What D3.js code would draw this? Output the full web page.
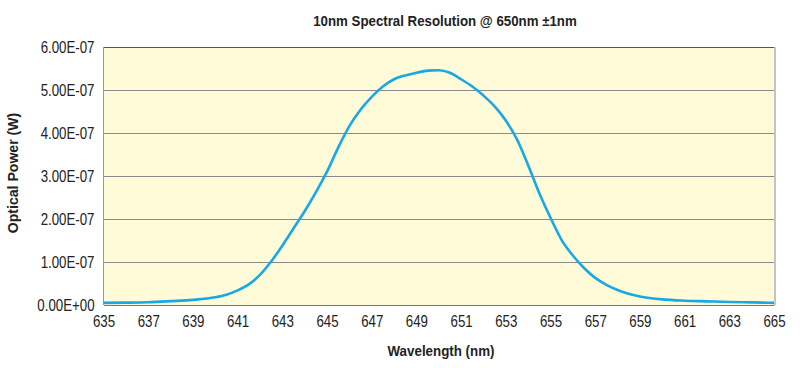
<!DOCTYPE html>
<html><head><meta charset="utf-8">
<script src="https://cdn.jsdelivr.net/npm/d3@7"></script>
<style>body{margin:0;background:#fff}svg{display:block}</style>
</head><body>
<svg id="c" width="800" height="368"></svg>
<script>
const wavelengths = [635,636,637,638,639,640,640.5,641,641.5,642,642.5,643,643.5,644,644.5,645,645.5,646,646.5,647,647.5,648,648.5,649,649.5,650,650.5,651,651.5,652,652.5,653,653.5,654,654.5,655,655.5,656,656.5,657,657.5,658,659,660,661,662,663,664,665];
const powerE7 = [0.05,0.055,0.065,0.09,0.12,0.18,0.24,0.34,0.48,0.70,1.01,1.38,1.78,2.18,2.62,3.10,3.66,4.16,4.54,4.84,5.08,5.25,5.34,5.40,5.45,5.46,5.40,5.25,5.08,4.87,4.62,4.29,3.85,3.25,2.60,2.03,1.51,1.15,0.86,0.63,0.47,0.35,0.20,0.13,0.10,0.085,0.07,0.06,0.05];
const xTicks = [635,637,639,641,643,645,647,649,651,653,655,657,659,661,663,665];
const yTicks = [0,1e-7,2e-7,3e-7,4e-7,5e-7,6e-7];
const yTickLabels = ["0.00E+00","1.00E-07","2.00E-07","3.00E-07","4.00E-07","5.00E-07","6.00E-07"];
const title = "10nm Spectral Resolution @ 650nm \u00b11nm";
const xTitle = "Wavelength (nm)";
const yTitle = "Optical Power (W)";

const data = wavelengths.map((w,i)=>({x:w, y:powerE7[i]*1e-7}));
const svg = d3.select("#c");
const L=103.5, R=774, T=47, B=305;
const x = d3.scaleLinear().domain([635,665]).range([L,R]);
const y = d3.scaleLinear().domain([0,6e-7]).range([B,T]);
const font = "'Liberation Sans',Arial,sans-serif";
const SX = 0.83;

svg.append("rect").attr("x",L).attr("y",T).attr("width",R-L).attr("height",B-T).attr("fill","#FFFBD8");
svg.append("line").attr("x1",R+1).attr("x2",R+1).attr("y1",T).attr("y2",B).attr("stroke","#c4c4c4").attr("stroke-width",2);

svg.append("g").selectAll("line").data(yTicks.slice(1,-1)).join("line")
  .attr("x1",L).attr("x2",R).attr("y1",d=>Math.round(y(d))+0.5).attr("y2",d=>Math.round(y(d))+0.5)
  .attr("stroke","#8a8a8a").attr("stroke-width",1);
svg.append("line").attr("x1",L).attr("x2",R).attr("y1",T+0.5).attr("y2",T+0.5).attr("stroke","#555").attr("stroke-width",1.2);
svg.append("line").attr("x1",L).attr("x2",L).attr("y1",T).attr("y2",B).attr("stroke","#9a9a9a").attr("stroke-width",1);

svg.append("path").datum(data)
  .attr("d", d3.line().x(d=>x(d.x)).y(d=>y(d.y)).curve(d3.curveMonotoneX))
  .attr("fill","none").attr("stroke","#18A8E4").attr("stroke-width",2.6);

const xa = svg.append("g").attr("transform",`translate(0,${B})`)
  .call(d3.axisBottom(x).tickValues(xTicks).tickSize(0).tickPadding(11).tickFormat(d3.format("d")));
xa.select(".domain").attr("stroke","#777").attr("stroke-width",1.2);
xa.selectAll("text").attr("font-family",font).attr("font-size",16).attr("fill","#222")
  .attr("transform",`scale(${SX},1)`);

const ya = svg.append("g").attr("transform",`translate(${L},0)`)
  .call(d3.axisLeft(y).tickValues(yTicks).tickSize(0).tickPadding(9).tickFormat((d,i)=>yTickLabels[i]));
ya.select(".domain").remove();
ya.selectAll("text").attr("font-family",font).attr("font-size",16).attr("fill","#222")
  .attr("x",-9/SX).attr("transform",`scale(${SX},1)`);

svg.append("text").attr("transform","translate(445,26) scale(0.885,1)").attr("text-anchor","middle")
  .attr("font-family",font).attr("font-weight","bold").attr("font-size",15).attr("fill","#222").text(title);
svg.append("text").attr("transform","translate(441,356) scale(0.89,1)").attr("text-anchor","middle")
  .attr("font-family",font).attr("font-weight","bold").attr("font-size",15).attr("fill","#222").text(xTitle);
svg.append("text").attr("transform","translate(18,173) rotate(-90) scale(0.94,1)").attr("text-anchor","middle")
  .attr("font-family",font).attr("font-weight","bold").attr("font-size",15).attr("fill","#222").text(yTitle);
</script>
</body></html>
